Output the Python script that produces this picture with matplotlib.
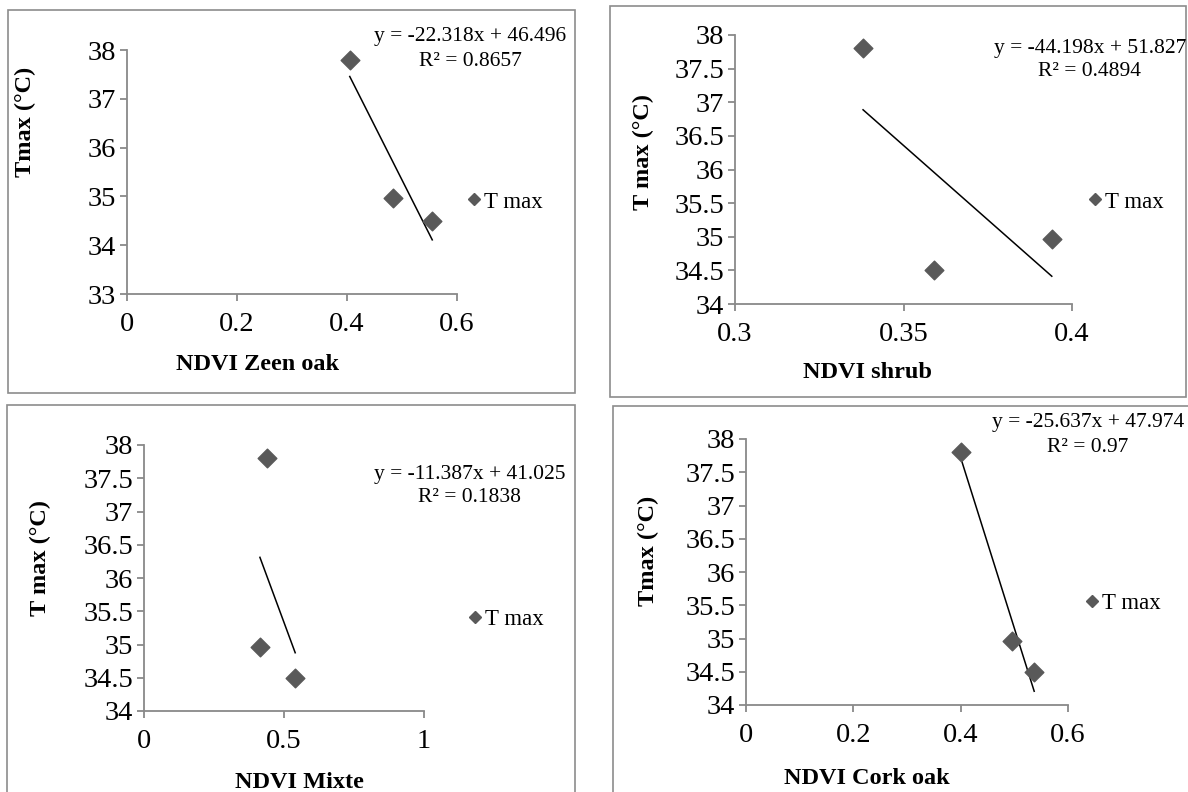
import numpy as np
import matplotlib
matplotlib.use("Agg")
import matplotlib.pyplot as plt
from matplotlib.lines import Line2D
from matplotlib.patches import Rectangle
from matplotlib.ticker import MultipleLocator, FuncFormatter

plt.rcParams['font.family'] = ['Liberation Serif', 'DejaVu Serif']

# values
tmax = [37.8, 34.96, 34.5]

ndvi_zeen = [0.405, 0.484, 0.555]
ndvi_shrub = [0.338, 0.394, 0.359]
ndvi_mixte = [0.44, 0.414, 0.54]
ndvi_cork = [0.40, 0.495, 0.537]

# trend line coefficients as printed on the chart
slopes = [-22.318, -44.198, -11.387, -25.637]
intercepts = [46.496, 51.827, 41.025, 47.974]
r2_values = ["0.8657", "0.4894", "0.1838", "0.97"]

x_labels = ["NDVI Zeen oak", "NDVI shrub", "NDVI Mixte", "NDVI Cork oak"]
y_labels = ["Tmax (°C)", "T max (°C)", "T max (°C)", "Tmax (°C)"]
x_limits = [(0, 0.6), (0.3, 0.4), (0, 1), (0, 0.6)]
x_steps = [0.2, 0.05, 0.5, 0.2]
y_limits = [(33, 38), (34, 38), (34, 38), (34, 38)]
y_steps = [1, 0.5, 0.5, 0.5]

W, H = 1188, 792
fig = plt.figure(figsize=(W / 100, H / 100), dpi=100)

marker_col = '#595959'
axis_col = '#898989'


def fx(px):
    return px / W


def fy(py):
    return 1 - py / H


# layout in pixels: axes box, frame, label spots, legend, equation
layout = [
    dict(ax=(127, 50, 457, 294), frame=(8, 10, 575, 393), xl=(258, 364), yl=(25, 122),
         leg=(474, 202), eq=(470, 37), r2=(470, 61)),
    dict(ax=(735, 35, 1072, 304), frame=(610, 6, 1186, 397), xl=(867, 373), yl=(643, 152),
         leg=(1095, 202), eq=(1090, 48), r2=(1090, 72)),
    dict(ax=(144, 445, 424, 711), frame=(7, 405, 575, 795), xl=(299, 782), yl=(40, 558),
         leg=(475, 619), eq=(470, 475), r2=(470, 498)),
    dict(ax=(746, 439, 1068, 705), frame=(613, 406, 1190, 795), xl=(867, 778), yl=(648, 551),
         leg=(1092, 603), eq=(1088, 423), r2=(1088, 448)),
]

all_x = [ndvi_zeen, ndvi_shrub, ndvi_mixte, ndvi_cork]


def tick_fmt(v, pos):
    return '%g' % round(v, 4)


for i in range(4):
    lay = layout[i]
    l, t, r, b = lay['ax']

    # grey frame round each chart
    fl, ft, fr, fb = lay['frame']
    fig.patches.append(Rectangle((fx(fl), fy(fb)), fx(fr - fl), (fb - ft) / H,
                                 transform=fig.transFigure, fill=False,
                                 edgecolor='#8c8c8c', linewidth=1.2, zorder=0))

    ax = fig.add_axes([fx(l), fy(b), fx(r - l), (b - t) / H])
    x = np.array(all_x[i])
    y = np.array(tmax)

    ax.scatter(x, y, marker='D', s=9.5 ** 2, color=marker_col, zorder=3, clip_on=False)

    xs = np.array([x.min(), x.max()])
    ax.plot(xs, slopes[i] * xs + intercepts[i], color='black', lw=1.1, zorder=2)

    ax.set_xlim(*x_limits[i])
    ax.set_ylim(*y_limits[i])
    ax.xaxis.set_major_locator(MultipleLocator(x_steps[i]))
    ax.yaxis.set_major_locator(MultipleLocator(y_steps[i]))
    ax.xaxis.set_major_formatter(FuncFormatter(tick_fmt))
    ax.yaxis.set_major_formatter(FuncFormatter(tick_fmt))

    for side in ['top', 'right']:
        ax.spines[side].set_visible(False)
    for side in ['left', 'bottom']:
        ax.spines[side].set_color(axis_col)
        ax.spines[side].set_linewidth(1.3)
    ax.tick_params(axis='both', direction='out', length=5, width=1.3, color=axis_col,
                   labelsize=20.5)
    ax.tick_params(axis='x', pad=8)
    ax.tick_params(axis='y', pad=3)

    ax.set_xlabel(x_labels[i], fontsize=17.5, fontweight='bold', va='center')
    ax.xaxis.set_label_coords((lay['xl'][0] - l) / (r - l), (b - lay['xl'][1]) / (b - t))
    ax.set_ylabel(y_labels[i], fontsize=17.5, fontweight='bold', va='center')
    ax.yaxis.set_label_coords((lay['yl'][0] - l) / (r - l), (b - lay['yl'][1]) / (b - t))

    # legend entry
    handle = Line2D([], [], marker='D', color=marker_col, ls='none', ms=6)
    hl = 0.6
    fs = 16.5
    half = hl * fs * 100 / 72 / 2
    ax.legend([handle], ['T max'], loc='center left',
              bbox_to_anchor=(fx(lay['leg'][0] - half), fy(lay['leg'][1])),
              bbox_transform=fig.transFigure, frameon=False, fontsize=fs,
              handlelength=hl, handletextpad=0.15, borderpad=0, borderaxespad=0)

    sign = '-' if slopes[i] < 0 else ''
    eq = 'y = %s%.3fx + %.3f' % (sign, abs(slopes[i]), intercepts[i])
    fig.text(fx(lay['eq'][0]), fy(lay['eq'][1]), eq, ha='center', va='center', fontsize=15.5)
    fig.text(fx(lay['r2'][0]), fy(lay['r2'][1]), 'R² = ' + r2_values[i], ha='center',
             va='center', fontsize=15.5)

fig.savefig('out.png', dpi=100)
